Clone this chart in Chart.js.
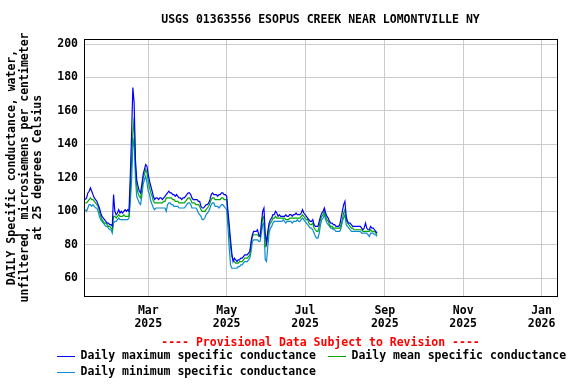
<!DOCTYPE html>
<html>
<head>
<meta charset="utf-8">
<script src="https://cdn.jsdelivr.net/npm/chart.js@4/dist/chart.umd.min.js"></script>
<style>
  html, body { margin: 0; padding: 0; background: #ffffff; }
  #wrap { width: 576px; height: 384px; }
</style>
</head>
<body>
<div id="wrap"><canvas id="c" width="576" height="384"></canvas></div>
<script>
// ---------------- DATA ----------------
const chartTitle = "USGS 01363556 ESOPUS CREEK NEAR LOMONTVILLE NY";
const provisionalText = "---- Provisional Data Subject to Revision ----";
const yTitleLines = ["DAILY Specific conductance, water,", "unfiltered, microsiemens per centimeter", "at 25 degrees Celsius"];
const seriesLabels = ["Daily maximum specific conductance", "Daily mean specific conductance", "Daily minimum specific conductance"];

// x values are day numbers counted from 2025-01-01 (day 0)
const xTickDays = [59, 120, 181, 243, 304, 365];
const xTickLabels = [["Mar", "2025"], ["May", "2025"], ["Jul", "2025"], ["Sep", "2025"], ["Nov", "2025"], ["Jan", "2026"]];
const yTickValues = [60, 80, 100, 120, 140, 160, 180, 200];

const firstDay = 10; // 2025-01-11

const maxVals = [
  107,108,111,112,114,112,110,108,107,106,
  104,102,99,97,96,95,94,93,93,92,
  92,91,110,100,98,99,101,99,100,99,
  100,101,100,101,100,121,145,174,165,131,
  119,115,112,111,116,122,125,128,127,122,
  118,115,112,109,107,108,108,107,108,108,
  107,108,109,110,111,112,111,111,110,110,
  109,110,109,108,108,107,108,108,109,110,
  111,111,110,108,107,107,107,107,106,106,
  103,102,102,103,104,104,105,107,110,111,
  110,110,110,109,110,110,111,111,110,110,
  109,100,92,83,75,70,72,71,70,71,
  71,72,72,73,74,74,74,75,76,82,
  86,88,88,88,89,86,85,93,100,102,
  87,81,88,93,95,96,98,98,100,99,
  97,98,97,97,97,97,98,97,97,98,
  98,97,98,98,99,98,98,98,99,101,
  99,98,97,96,95,94,94,95,92,91,
  91,91,94,97,99,100,102,99,97,96,
  94,93,93,92,92,91,91,91,92,96,
  100,104,106,97,94,93,93,92,91,91,
  91,91,91,91,91,90,89,90,93,90,
  89,89,91,90,90,89,88,87
];

const meanVals = [
  105,105,106,107,108,107,107,106,105,104,
  103,100,97,95,94,93,93,92,91,91,
  90,89,97,97,96,97,98,97,97,97,
  98,97,97,97,97,112,130,146,156,127,
  115,111,109,108,113,120,122,125,123,118,
  114,111,109,106,105,105,105,105,105,105,
  105,106,106,108,108,108,108,108,107,107,
  106,106,106,105,105,105,105,105,106,107,
  108,108,107,105,105,105,104,104,104,103,
  101,100,100,100,101,102,103,105,107,108,
  108,107,107,107,107,107,108,108,107,107,
  107,97,88,79,73,71,70,69,69,69,
  70,70,70,71,72,72,72,73,74,80,
  85,86,86,86,86,85,85,89,96,97,
  79,80,85,91,93,94,96,96,97,96,
  96,96,96,96,96,96,95,95,95,96,
  96,96,96,96,96,96,96,96,97,98,
  97,96,95,95,93,92,92,93,90,89,
  88,88,91,95,97,98,100,97,95,94,
  92,91,91,90,90,90,90,90,90,92,
  95,99,101,95,93,92,91,90,90,89,
  89,89,89,89,89,89,88,88,88,88,
  88,88,89,88,88,88,87,86
];

const minVals = [
  101,100,102,104,104,103,104,103,102,102,
  100,97,95,94,93,92,91,91,90,89,
  89,87,93,94,94,95,96,95,95,95,
  95,95,95,95,96,105,118,138,144,120,
  109,107,105,104,109,116,119,121,117,112,
  110,106,104,102,101,102,102,102,102,102,
  102,102,102,100,104,105,105,104,104,103,
  103,103,103,102,102,102,102,102,103,104,
  105,105,104,102,102,102,102,101,99,98,
  97,95,95,96,98,99,100,102,104,105,
  105,103,103,103,102,103,104,104,103,102,
  101,91,78,68,66,66,66,66,66,67,
  67,68,68,69,70,70,70,71,72,76,
  82,83,83,83,83,82,82,87,92,93,
  71,70,79,87,90,91,93,94,94,94,
  94,94,94,94,95,94,93,94,94,94,
  94,93,94,94,94,95,94,94,95,96,
  95,94,93,92,91,90,90,89,87,85,
  84,84,87,92,95,96,98,95,93,92,
  91,90,90,89,89,88,88,88,88,90,
  94,96,98,92,91,90,89,88,88,88,
  88,88,88,88,88,87,87,87,87,87,
  86,85,87,87,87,86,86,85
];

// ---------------- STYLE ----------------
const FONT_FAMILY = '"DejaVu Sans Mono", "Liberation Mono", monospace';
const FONT_SIZE = 11.5;
const seriesColors = ["#0000ff", "#00a800", "#0a8ad0"];

function toPoints(vals) {
  return vals.map((v, i) => ({ x: firstDay + i, y: v }));
}

const overlayPlugin = {
  id: 'overlay',
  afterDraw(chart) {
    const ctx = chart.ctx;
    const a = chart.chartArea;
    ctx.save();
    // plot frame
    ctx.strokeStyle = '#000000';
    ctx.lineWidth = 1;
    const l = Math.round(a.left) + 0.5, t = Math.round(a.top) + 0.5;
    const r = Math.round(a.right) + 0.5, b = Math.round(a.bottom) + 0.5;
    ctx.strokeRect(l, t, r - l, b - t);
    ctx.font = 'bold ' + FONT_SIZE + 'px ' + FONT_FAMILY;
    ctx.textBaseline = 'middle';
    ctx.textAlign = 'center';
    const cx = (a.left + a.right) / 2;
    ctx.fillStyle = '#000000';
    ctx.fillText(chartTitle, cx, 20.5);
    ctx.fillStyle = '#ff0000';
    ctx.fillText(provisionalText, cx, 343);
    // legend
    const items = [
      { x: 57, y: 356.5, i: 0 },
      { x: 328, y: 356.5, i: 1 },
      { x: 57, y: 372.5, i: 2 }
    ];
    ctx.textAlign = 'left';
    items.forEach(it => {
      ctx.strokeStyle = seriesColors[it.i];
      ctx.lineWidth = 1;
      ctx.beginPath();
      ctx.moveTo(it.x, it.y);
      ctx.lineTo(it.x + 18, it.y);
      ctx.stroke();
      ctx.fillStyle = '#000000';
      ctx.fillText(seriesLabels[it.i], it.x + 23.5, it.y);
    });
    ctx.restore();
  }
};

const tickFont = { family: FONT_FAMILY, size: FONT_SIZE, weight: 'bold', lineHeight: '13px' };

new Chart(document.getElementById('c'), {
  type: 'line',
  data: {
    datasets: [
      { label: seriesLabels[0], data: toPoints(maxVals), borderColor: seriesColors[0], borderWidth: 1.2, pointRadius: 0, fill: false, tension: 0 },
      { label: seriesLabels[1], data: toPoints(meanVals), borderColor: seriesColors[1], borderWidth: 1.2, pointRadius: 0, fill: false, tension: 0 },
      { label: seriesLabels[2], data: toPoints(minVals), borderColor: seriesColors[2], borderWidth: 1.2, pointRadius: 0, fill: false, tension: 0 }
    ]
  },
  options: {
    responsive: false,
    devicePixelRatio: 1,
    animation: false,
    layout: { padding: { top: 39, left: 0, right: 19, bottom: 0 } },
    plugins: {
      legend: { display: false },
      title: { display: false },
      tooltip: { enabled: false }
    },
    scales: {
      x: {
        type: 'linear',
        min: 9,
        max: 377,
        grid: { color: '#cccccc', lineWidth: 1, drawTicks: false },
        border: { display: false },
        ticks: {
          autoSkip: false,
          maxRotation: 0,
          padding: 8.5,
          color: '#000000',
          font: tickFont,
          callback: function (value) {
            const k = xTickDays.indexOf(value);
            return k >= 0 ? xTickLabels[k] : '';
          }
        },
        afterBuildTicks: function (scale) {
          scale.ticks = xTickDays.map(v => ({ value: v }));
        },
        afterFit: function (scale) { scale.height = 88; }
      },
      y: {
        type: 'linear',
        min: 49.4,
        max: 203,
        grid: { color: '#cccccc', lineWidth: 1, drawTicks: false },
        border: { display: false },
        ticks: {
          padding: 6,
          color: '#000000',
          font: tickFont
        },
        afterBuildTicks: function (scale) {
          scale.ticks = yTickValues.map(v => ({ value: v }));
        },
        title: {
          display: true,
          text: yTitleLines,
          color: '#000000',
          font: tickFont,
          padding: { top: 6, bottom: 0 }
        },
        afterFit: function (scale) { scale.width = 84; }
      }
    }
  },
  plugins: [overlayPlugin]
});
</script>
</body>
</html>
